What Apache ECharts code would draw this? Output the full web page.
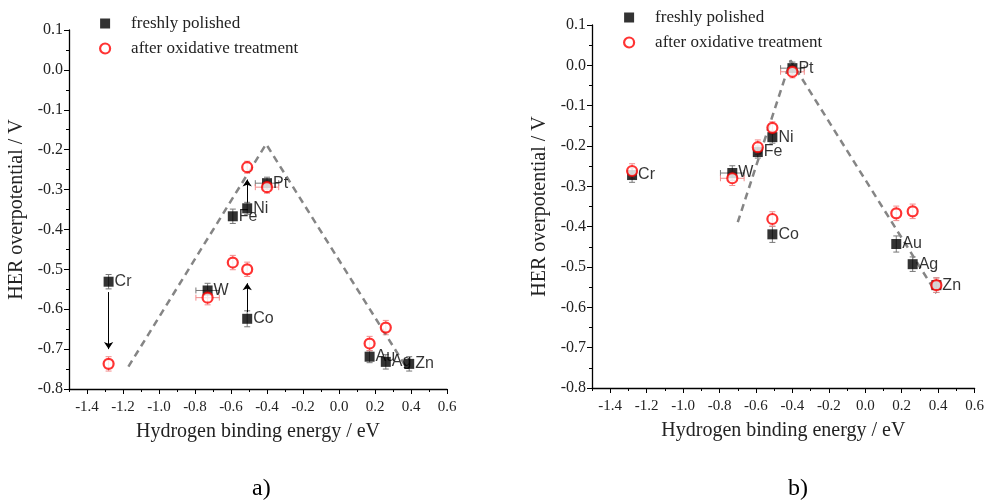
<!DOCTYPE html>
<html>
<head>
<meta charset="utf-8">
<title>HER volcano plot</title>
<script src="https://cdn.jsdelivr.net/npm/echarts@6/dist/echarts.min.js"></script>
<style>
  html, body { margin: 0; padding: 0; background: #fff; }
  #chart { width: 987px; height: 501px; }
</style>
</head>
<body>
<div id="chart"></div>
<script>
// metals and their hydrogen binding energy (eV)
var metals = ['Cr', 'W', 'Fe', 'Ni', 'Co', 'Pt', 'Au', 'Ag', 'Zn'];
var bindingEnergy = [-1.28, -0.73, -0.59, -0.51, -0.51, -0.40, 0.17, 0.26, 0.39];
var errEnergy = [0, 0.065, 0, 0, 0, 0.065, 0, 0, 0];

// panel a) HER overpotential / V
var polishedA = [-0.531, -0.553, -0.367, -0.347, -0.624, -0.284, -0.719, -0.732, -0.737];
var oxidisedA = [-0.737, -0.571, -0.483, -0.244, -0.500, -0.294, -0.686, -0.646, null];
var errPolishedA = [0.018, 0.018, 0.018, 0.015, 0.02, 0.015, 0.015, 0.018, 0.018];
var errOxidisedA = [0.018, 0.018, 0.018, 0.015, 0.018, 0.015, 0.018, 0.018, 0];

// panel b)
var polishedB = [-0.272, -0.267, -0.215, -0.178, -0.419, -0.007, -0.443, -0.493, -0.545];
var oxidisedB = [-0.262, -0.280, -0.203, -0.155, -0.381, -0.016, -0.367, -0.362, -0.545];
var errPolishedB = [0.018, 0.018, 0.015, 0.015, 0.02, 0.015, 0.02, 0.018, 0.018];
var errOxidisedB = [0.018, 0.018, 0.018, 0.015, 0.018, 0.015, 0.018, 0.018, 0.018];

// dashed volcano guide lines
var trendAX = [-1.17, -0.405, 0.38];
var trendAY = [-0.744, -0.186, -0.75];
var trendBX = [-0.70, -0.41, 0.39];
var trendBY = [-0.389, 0.012, -0.565];

// arrows in panel a) (Cr, Ni, Co)
var arrowX = [-1.28, -0.51, -0.51];
var arrowFrom = [-0.557, -0.333, -0.607];
var arrowTo = [-0.700, -0.275, -0.535];

var xTicks = [-1.4, -1.2, -1.0, -0.8, -0.6, -0.4, -0.2, 0.0, 0.2, 0.4, 0.6];

var SERIF = 'Liberation Serif';
var TXT = '#222';

function pts(ys, errY) {
  var out = [];
  for (var i = 0; i < ys.length; i++) {
    if (ys[i] === null) continue;
    out.push({ name: metals[i], value: [bindingEnergy[i], ys[i], errY[i], errEnergy[i]] });
  }
  return out;
}

function errRender(params, api) {
  var x = api.value(0), y = api.value(1), ey = api.value(2), ex = api.value(3);
  var c = api.coord([x, y]);
  var st = { stroke: api.visual('color'), lineWidth: 1 };
  var kids = [];
  if (ey > 0) {
    var t = api.coord([x, y + ey]), b = api.coord([x, y - ey]);
    kids.push({ type: 'line', shape: { x1: c[0], y1: t[1], x2: c[0], y2: b[1] }, style: st });
    kids.push({ type: 'line', shape: { x1: c[0] - 3, y1: t[1], x2: c[0] + 3, y2: t[1] }, style: st });
    kids.push({ type: 'line', shape: { x1: c[0] - 3, y1: b[1], x2: c[0] + 3, y2: b[1] }, style: st });
  }
  if (ex > 0) {
    var l = api.coord([x - ex, y]), r = api.coord([x + ex, y]);
    kids.push({ type: 'line', shape: { x1: l[0], y1: c[1], x2: r[0], y2: c[1] }, style: st });
    kids.push({ type: 'line', shape: { x1: l[0], y1: c[1] - 3, x2: l[0], y2: c[1] + 3 }, style: st });
    kids.push({ type: 'line', shape: { x1: r[0], y1: c[1] - 3, x2: r[0], y2: c[1] + 3 }, style: st });
  }
  return { type: 'group', children: kids };
}

function mainX(gi) {
  return {
    type: 'value', gridIndex: gi, min: -1.5, max: 0.6, position: 'bottom',
    name: 'Hydrogen binding energy / eV', nameLocation: 'middle', nameGap: 33,
    nameTextStyle: { fontFamily: SERIF, fontSize: 20, color: TXT },
    axisLine: { onZero: false, lineStyle: { color: '#000', width: 1.3 } },
    axisTick: { show: true, length: 5, customValues: xTicks, lineStyle: { color: '#000' } },
    axisLabel: { customValues: xTicks, fontFamily: SERIF, fontSize: 15, color: TXT, margin: 11,
      formatter: function (v) { return v.toFixed(1); } },
    splitLine: { show: false }
  };
}
function minorX(gi) {
  return {
    type: 'value', gridIndex: gi, min: -1.5, max: 0.6, interval: 0.1, position: 'bottom',
    axisLine: { show: false, onZero: false },
    axisTick: { show: true, length: 3, lineStyle: { color: '#000' } },
    axisLabel: { show: false }, splitLine: { show: false }
  };
}
function yAx(gi) {
  return {
    type: 'value', gridIndex: gi, min: -0.8, max: 0.1, interval: 0.1,
    name: 'HER overpotential / V', nameLocation: 'middle', nameGap: 42,
    nameTextStyle: { fontFamily: SERIF, fontSize: 20, color: TXT },
    axisLine: { show: true, onZero: false, lineStyle: { color: '#000', width: 1.3 } },
    axisTick: { show: true, length: 5, lineStyle: { color: '#000' } },
    minorTick: { show: true, splitNumber: 2, length: 3, lineStyle: { color: '#000' } },
    axisLabel: { fontFamily: SERIF, fontSize: 16, color: TXT, margin: 6,
      formatter: function (v) { return v.toFixed(1); } },
    splitLine: { show: false }, minorSplitLine: { show: false }
  };
}

function panelSeries(xi, yi, polished, oxidised, errP, errO, tx, ty, withArrows) {
  var s = [];
  s.push({ type: 'custom', xAxisIndex: xi, yAxisIndex: yi, renderItem: errRender,
    itemStyle: { color: '#777' }, data: pts(polished, errP), z: 1, silent: true });
  s.push({ type: 'custom', xAxisIndex: xi, yAxisIndex: yi, renderItem: errRender,
    itemStyle: { color: '#f28a8a' }, data: pts(oxidised, errO), z: 1, silent: true });
  s.push({ type: 'line', xAxisIndex: xi, yAxisIndex: yi, symbol: 'none', z: 2, silent: true,
    lineStyle: { color: '#858585', width: 2.5, type: [7, 5] },
    data: tx.map(function (x, i) { return [x, ty[i]]; }) });
  if (withArrows) {
    s.push({ type: 'lines', coordinateSystem: 'cartesian2d', xAxisIndex: xi, yAxisIndex: yi,
      symbol: ['none', 'arrow'], symbolSize: 7, z: 3, silent: true,
      lineStyle: { color: '#000', width: 1, opacity: 1 },
      data: arrowX.map(function (x, i) { return { coords: [[x, arrowFrom[i]], [x, arrowTo[i]]] }; }) });
  }
  s.push({ name: 'freshly polished', type: 'scatter', xAxisIndex: xi, yAxisIndex: yi,
    symbol: 'rect', symbolSize: 10, z: 4,
    itemStyle: { color: '#000' },
    label: { show: true, position: 'right', distance: 1, formatter: '{b}',
      fontFamily: 'Liberation Sans', fontSize: 16, color: '#000' },
    data: pts(polished, errP) });
  s.push({ name: 'after oxidative treatment', type: 'scatter', xAxisIndex: xi, yAxisIndex: yi,
    symbol: 'circle', symbolSize: 10, z: 5,
    itemStyle: { color: '#fff', borderColor: '#ff0000', borderWidth: 2.2 },
    data: pts(oxidised, errO) });
  return s;
}

function legendAt(left, top) {
  return {
    left: left, top: top, orient: 'vertical', itemGap: 8, itemWidth: 10, itemHeight: 10,
    textStyle: { fontFamily: SERIF, fontSize: 17, color: TXT, padding: [0, 0, 0, 16] },
    data: [
      { name: 'freshly polished', icon: 'rect', itemStyle: { color: '#000' } },
      { name: 'after oxidative treatment', icon: 'circle',
        itemStyle: { color: '#fff', borderColor: '#ff0000', borderWidth: 2.2 } }
    ]
  };
}

var chart = echarts.init(document.getElementById('chart'));
chart.setOption({
  animation: false,
  backgroundColor: '#fff',
  legend: [legendAt(94, 10), legendAt(618, 4)],
  grid: [
    { left: 69, top: 30, width: 378, height: 359 },
    { left: 592, top: 25, width: 383, height: 363 }
  ],
  xAxis: [mainX(0), minorX(0), mainX(1), minorX(1)],
  yAxis: [yAx(0), yAx(1)],
  graphic: [
    { type: 'text', left: 252, top: 477, style: { text: 'a)', font: '24px "Liberation Serif"', fill: '#000' } },
    { type: 'text', left: 788, top: 477, style: { text: 'b)', font: '24px "Liberation Serif"', fill: '#000' } }
  ],
  series: [].concat(
    panelSeries(0, 0, polishedA, oxidisedA, errPolishedA, errOxidisedA, trendAX, trendAY, true),
    panelSeries(2, 1, polishedB, oxidisedB, errPolishedB, errOxidisedB, trendBX, trendBY, false)
  )
});
</script>
</body>
</html>
